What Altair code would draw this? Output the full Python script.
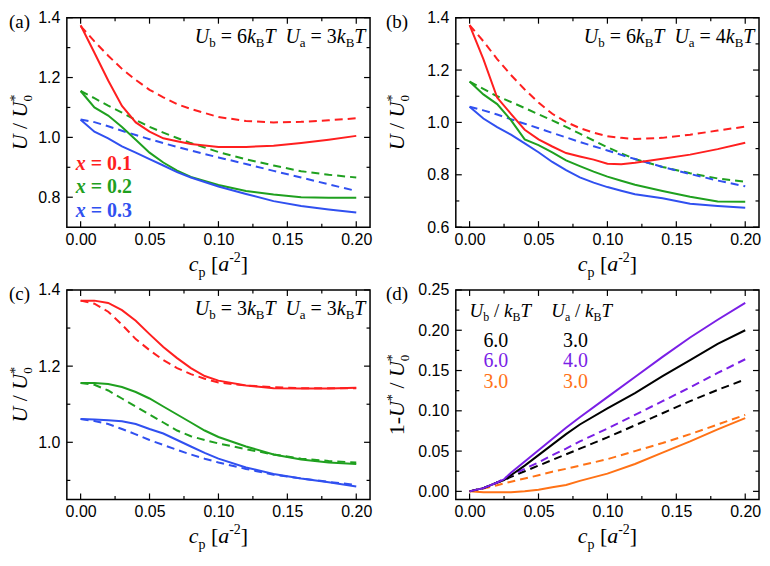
import altair as alt
import pandas as pd

# ---------------- data ----------------
X_MAJOR = [0.0, 0.05, 0.10, 0.15, 0.20]
X_MINOR = [0.025, 0.075, 0.125, 0.175]

# panel (a): Ub = 6 kBT, Ua = 3 kBT
A_X = [0.0, 0.01, 0.02, 0.03, 0.04, 0.05, 0.06, 0.07, 0.08, 0.10, 0.12, 0.14, 0.16, 0.18, 0.20]
A_RED_SOLID = [1.375, 1.283, 1.190, 1.105, 1.050, 1.019, 0.997, 0.987, 0.978, 0.968, 0.968, 0.972, 0.981, 0.992, 1.005]
A_RED_DASH = [1.372, 1.321, 1.273, 1.229, 1.192, 1.159, 1.134, 1.111, 1.095, 1.068, 1.055, 1.050, 1.052, 1.057, 1.064]
A_GRN_SOLID = [1.155, 1.100, 1.073, 1.035, 0.992, 0.949, 0.916, 0.889, 0.868, 0.841, 0.821, 0.809, 0.800, 0.798, 0.798]
A_GRN_DASH = [1.155, 1.131, 1.106, 1.083, 1.058, 1.035, 1.016, 0.998, 0.981, 0.951, 0.927, 0.906, 0.887, 0.875, 0.866]
A_BLU_SOLID = [1.059, 1.019, 0.997, 0.970, 0.949, 0.927, 0.906, 0.884, 0.866, 0.836, 0.811, 0.787, 0.771, 0.759, 0.749]
A_BLU_DASH = [1.060, 1.051, 1.037, 1.022, 1.008, 0.994, 0.981, 0.968, 0.956, 0.933, 0.911, 0.888, 0.866, 0.843, 0.821]

# panel (b): Ub = 6 kBT, Ua = 4 kBT
B_X = [0.0, 0.01, 0.02, 0.03, 0.04, 0.05, 0.06, 0.07, 0.08, 0.09, 0.10, 0.11, 0.12, 0.14, 0.16, 0.18, 0.20]
B_RED_SOLID = [1.372, 1.242, 1.095, 1.033, 0.972, 0.935, 0.908, 0.883, 0.870, 0.858, 0.842, 0.840, 0.846, 0.861, 0.877, 0.898, 0.922]
B_RED_DASH = [1.372, 1.310, 1.242, 1.181, 1.126, 1.076, 1.033, 1.002, 0.978, 0.961, 0.947, 0.941, 0.937, 0.941, 0.953, 0.969, 0.984]
B_GRN_SOLID = [1.156, 1.107, 1.070, 1.009, 0.935, 0.913, 0.886, 0.855, 0.833, 0.812, 0.793, 0.777, 0.762, 0.738, 0.716, 0.698, 0.697]
B_GRN_DASH = [1.156, 1.128, 1.100, 1.078, 1.055, 1.031, 1.008, 0.983, 0.957, 0.931, 0.905, 0.882, 0.860, 0.830, 0.806, 0.786, 0.773]
B_BLU_SOLID = [1.060, 1.015, 0.982, 0.953, 0.920, 0.886, 0.849, 0.818, 0.790, 0.770, 0.753, 0.739, 0.726, 0.710, 0.689, 0.681, 0.674]
B_BLU_DASH = [1.060, 1.046, 1.030, 1.012, 0.995, 0.978, 0.960, 0.943, 0.925, 0.909, 0.893, 0.876, 0.860, 0.830, 0.803, 0.778, 0.756]

# panel (c): Ub = 3 kBT, Ua = 3 kBT
C_X = [0.0, 0.01, 0.02, 0.03, 0.04, 0.05, 0.06, 0.07, 0.08, 0.09, 0.10, 0.12, 0.14, 0.16, 0.18, 0.20]
C_RED_SOLID = [1.372, 1.372, 1.366, 1.347, 1.319, 1.284, 1.250, 1.221, 1.195, 1.174, 1.162, 1.149, 1.142, 1.141, 1.141, 1.143]
C_RED_DASH = [1.372, 1.364, 1.343, 1.309, 1.271, 1.242, 1.216, 1.195, 1.179, 1.167, 1.157, 1.149, 1.145, 1.142, 1.142, 1.142]
C_GRN_SOLID = [1.156, 1.156, 1.153, 1.145, 1.132, 1.115, 1.094, 1.073, 1.052, 1.031, 1.014, 0.989, 0.968, 0.955, 0.947, 0.943]
C_GRN_DASH = [1.156, 1.151, 1.136, 1.115, 1.094, 1.073, 1.052, 1.031, 1.016, 1.006, 0.997, 0.982, 0.968, 0.957, 0.951, 0.947]
C_BLU_SOLID = [1.061, 1.060, 1.058, 1.055, 1.048, 1.035, 1.023, 1.006, 0.989, 0.972, 0.957, 0.934, 0.917, 0.905, 0.895, 0.884]
C_BLU_DASH = [1.061, 1.056, 1.048, 1.035, 1.021, 1.006, 0.993, 0.980, 0.968, 0.957, 0.947, 0.930, 0.915, 0.905, 0.896, 0.888]

# panel (d): 1 - U*/U0*
D_X = [0.0, 0.01, 0.02, 0.025, 0.03, 0.04, 0.05, 0.06, 0.07, 0.08, 0.10, 0.12, 0.14, 0.16, 0.18, 0.20]
D_PUR_SOLID = [0.0, 0.004, 0.011, 0.015, 0.023, 0.037, 0.051, 0.065, 0.079, 0.092, 0.117, 0.142, 0.167, 0.191, 0.213, 0.234]
D_BLK_SOLID = [0.0, 0.004, 0.011, 0.014, 0.020, 0.032, 0.045, 0.058, 0.071, 0.083, 0.103, 0.122, 0.143, 0.163, 0.183, 0.200]
D_PUR_DASH = [0.0, 0.004, 0.011, 0.016, 0.020, 0.028, 0.036, 0.045, 0.053, 0.062, 0.078, 0.095, 0.112, 0.129, 0.147, 0.164]
D_BLK_DASH = [0.0, 0.004, 0.011, 0.014, 0.018, 0.025, 0.032, 0.039, 0.046, 0.053, 0.067, 0.082, 0.097, 0.112, 0.126, 0.139]
D_ORG_SOLID = [0.0, -0.001, -0.001, -0.001, -0.001, 0.000, 0.002, 0.005, 0.008, 0.013, 0.022, 0.034, 0.048, 0.062, 0.077, 0.091]
D_ORG_DASH = [0.0, 0.0035, 0.0076, 0.0098, 0.012, 0.016, 0.020, 0.0244, 0.028, 0.032, 0.040, 0.050, 0.060, 0.071, 0.083, 0.095]

NOTE_UB = ["6", "6", "3"]
NOTE_UA = ["3", "4", "3"]
X_LABELS = ["0.1", "0.2", "0.3"]
LEG_UB = ["6.0", "6.0", "3.0"]
LEG_UA = ["3.0", "4.0", "3.0"]

RED, GREEN, BLUE = "#ff1f1f", "#1fa01f", "#3050f0"
PURPLE, BLACK, ORANGE = "#7a1fe6", "#000000", "#ff7216"

# ---------------- layout ----------------
W, H = 304, 210
SX, SY = W / 308.0, H / 217.0
XDOM = [-0.01, 0.21]
SERIF = "Liberation Serif"
SANS = "Liberation Sans"

ADV = {
    "n": {" ": 250, "/": 278, "=": 564, ".": 250, "-": 333, "[": 333, "]": 333, "(": 333, ")": 333,
          "a": 444, "b": 500, "c": 444, "d": 500, "B": 667, "p": 500, "*": 500},
    "i": {"U": 722, "k": 444, "T": 556, "c": 444, "a": 500, "x": 444, " ": 250},
    "b": {" ": 250, "=": 570, ".": 250},
    "bi": {"x": 500},
}


def adv(text, st, size):
    return sum(ADV[st].get(ch, 500) for ch in text) * size / 1000.0


ONE = alt.Data(values=[{"k": 0}])


def tmark(text, x, y, st, size, color, angle):
    props = dict(align="left", baseline="alphabetic", font=SERIF, fontSize=size, color=color,
                 fontStyle="italic" if "i" in st else "normal",
                 fontWeight="bold" if st.startswith("b") else "normal")
    if angle:
        props["angle"] = angle
    return alt.Chart(ONE).mark_text(**props).encode(
        x=alt.value(x), y=alt.value(y), text=alt.value(text))


def P(t, st="n", sz=20, sh=0, a=True):
    return (t, st, sz, sh, a)


def run(pieces, x0, y0, color="black", rotate=False, center=False):
    total = sum(adv(t, st, sz) for t, st, sz, sh, a in pieces if a)
    pos = -total / 2 if center else 0.0
    out = []
    for t, st, sz, sh, a in pieces:
        body = t.strip(" ")
        if body:
            lead = adv(" " * (len(t) - len(t.lstrip(" "))), st, sz)
            p = pos + lead
            if rotate:
                out.append(tmark(body, x0 + sh, y0 - p, st, sz, color, 270))
            else:
                out.append(tmark(body, x0 + p, y0 + sh, st, sz, color, 0))
        if a:
            pos += adv(t, st, sz)
    return out


Y_TITLE_U = [P("U", "i", 22), P(" / ", "n", 22), P("U", "i", 22), P("0", "n", 13, 5, False), P("*", "n", 14, -7)]
Y_TITLE_D = [P("1-", "n", 22), P("U", "i", 22), P("*", "n", 14, -7), P(" / ", "n", 22), P("U", "i", 22),
             P("0", "n", 13, 5, False), P("*", "n", 14, -7)]
X_TITLE = [P("c", "i", 22), P("p", "n", 14, 6), P(" [", "n", 22), P("a", "i", 22), P("-2", "n", 14, -9), P("]", "n", 22)]


def note(ub, ua):
    return [P("U", "i", 20), P("b", "n", 13, 4), P(" = " + ub, "n", 20), P("k", "i", 20), P("B", "n", 13, 4),
            P("T", "i", 20), P("  ", "n", 20),
            P("U", "i", 20), P("a", "n", 13, 4), P(" = " + ua, "n", 20), P("k", "i", 20), P("B", "n", 13, 4),
            P("T", "i", 20)]


def panel(series, ydom, ymaj, ymin, yfmt, letter, letter_x, ytitle, ytitle_x, extras):
    xs = alt.Scale(domain=XDOM, nice=False, zero=False)
    ys = alt.Scale(domain=ydom, nice=False, zero=False)
    xa = alt.Axis(values=X_MAJOR, format=".2f", title=None, grid=False, ticks=False, tickSize=0,
                  domain=False, labelFont=SANS, labelFontSize=16, labelColor="black",
                  labelPadding=4, labelFlush=False)
    ya = alt.Axis(values=ymaj, format=yfmt, title=None, grid=False, ticks=False, tickSize=0,
                  domain=False, labelFont=SANS, labelFontSize=16, labelColor="black", labelPadding=7)

    def X():
        return alt.X("x:Q", scale=xs, axis=xa)

    def Y():
        return alt.Y("y:Q", scale=ys, axis=ya)

    layers = []
    for vals, ln in ((X_MAJOR, 6), (X_MINOR, 3.5)):
        df = pd.DataFrame({"x": vals})
        layers.append(alt.Chart(df).mark_rule(color="black", strokeWidth=1.2).encode(
            x=X(), y=alt.value(H), y2=alt.value(H - ln)))
        layers.append(alt.Chart(df).mark_rule(color="black", strokeWidth=1.2).encode(
            x=X(), y=alt.value(0), y2=alt.value(ln)))
    for vals, ln in ((ymaj, 6), (ymin, 3.5)):
        df = pd.DataFrame({"y": vals})
        layers.append(alt.Chart(df).mark_rule(color="black", strokeWidth=1.2).encode(
            y=Y(), x=alt.value(0), x2=alt.value(ln)))
        layers.append(alt.Chart(df).mark_rule(color="black", strokeWidth=1.2).encode(
            y=Y(), x=alt.value(W), x2=alt.value(W - ln)))

    rows_s, rows_d = [], []
    for name, xv, yv, color, dashed in series:
        for a, b in zip(xv, yv):
            (rows_d if dashed else rows_s).append({"x": a, "y": b, "s": name, "c": color})
    layers.append(alt.Chart(pd.DataFrame(rows_d)).mark_line(strokeWidth=2, strokeDash=[8, 5]).encode(
        x=X(), y=Y(), detail="s:N", color=alt.Color("c:N", scale=None)))
    layers.append(alt.Chart(pd.DataFrame(rows_s)).mark_line(strokeWidth=2).encode(
        x=X(), y=Y(), detail="s:N", color=alt.Color("c:N", scale=None)))

    layers += run([P(letter, "n", 19)], letter_x, 10)
    layers += run(ytitle, ytitle_x, H / 2, rotate=True, center=True)
    layers += run(X_TITLE, W / 2, H + 44, center=True)
    layers += extras
    return alt.layer(*layers).properties(width=W, height=H)


# panel (a)
ex_a = run(note(NOTE_UB[0], NOTE_UA[0]), 130 * SX, 26 * SY)
for lab, col, yb in zip(X_LABELS, [RED, GREEN, BLUE], [158, 182, 207]):
    ex_a += run([P("x", "bi", 20), P(" = " + lab, "b", 20)], 9 * SX, yb * SY, color=col)
pa = panel([
    ("r_s", A_X, A_RED_SOLID, RED, False), ("r_d", A_X, A_RED_DASH, RED, True),
    ("g_s", A_X, A_GRN_SOLID, GREEN, False), ("g_d", A_X, A_GRN_DASH, GREEN, True),
    ("b_s", A_X, A_BLU_SOLID, BLUE, False), ("b_d", A_X, A_BLU_DASH, BLUE, True),
], [0.7, 1.4], [0.8, 1.0, 1.2, 1.4], [0.9, 1.1, 1.3], ".1f", "(a)", -58, Y_TITLE_U, -40, ex_a)

# panel (b)
ex_b = run(note(NOTE_UB[1], NOTE_UA[1]), 130 * SX, 26 * SY)
pb = panel([
    ("r_s", B_X, B_RED_SOLID, RED, False), ("r_d", B_X, B_RED_DASH, RED, True),
    ("g_s", B_X, B_GRN_SOLID, GREEN, False), ("g_d", B_X, B_GRN_DASH, GREEN, True),
    ("b_s", B_X, B_BLU_SOLID, BLUE, False), ("b_d", B_X, B_BLU_DASH, BLUE, True),
], [0.6, 1.4], [0.6, 0.8, 1.0, 1.2, 1.4], [0.7, 0.9, 1.1, 1.3], ".1f", "(b)", -70, Y_TITLE_U, -52, ex_b)

# panel (c)
ex_c = run(note(NOTE_UB[2], NOTE_UA[2]), 130 * SX, 26 * SY)
pc = panel([
    ("r_s", C_X, C_RED_SOLID, RED, False), ("r_d", C_X, C_RED_DASH, RED, True),
    ("g_s", C_X, C_GRN_SOLID, GREEN, False), ("g_d", C_X, C_GRN_DASH, GREEN, True),
    ("b_s", C_X, C_BLU_SOLID, BLUE, False), ("b_d", C_X, C_BLU_DASH, BLUE, True),
], [0.85, 1.4], [1.0, 1.2, 1.4], [0.9, 1.1, 1.3], ".1f", "(c)", -58, Y_TITLE_U, -40, ex_c)

# panel (d)
hdr_b = [P("U", "i", 19), P("b", "n", 12, 4), P(" / ", "n", 19), P("k", "i", 19), P("B", "n", 12, 4), P("T", "i", 19)]
hdr_a = [P("U", "i", 19), P("a", "n", 12, 4), P(" / ", "n", 19), P("k", "i", 19), P("B", "n", 12, 4), P("T", "i", 19)]
ex_d = run(hdr_b, 14 * SX, 28 * SY) + run(hdr_a, 97 * SX, 28 * SY)
for ub, ua, col, yb in zip(LEG_UB, LEG_UA, [BLACK, PURPLE, ORANGE], [59, 80, 101.5]):
    ex_d += run([P(ub, "n", 20)], 28 * SX, yb * SY, color=col)
    ex_d += run([P(ua, "n", 20)], 109 * SX, yb * SY, color=col)
pdd = panel([
    ("o_s", D_X, D_ORG_SOLID, ORANGE, False), ("o_d", D_X, D_ORG_DASH, ORANGE, True),
    ("k_s", D_X, D_BLK_SOLID, BLACK, False), ("k_d", D_X, D_BLK_DASH, BLACK, True),
    ("p_s", D_X, D_PUR_SOLID, PURPLE, False), ("p_d", D_X, D_PUR_DASH, PURPLE, True),
], [-0.01, 0.25], [0.0, 0.05, 0.10, 0.15, 0.20, 0.25],
    [0.025, 0.075, 0.125, 0.175, 0.225], ".2f", "(d)", -70, Y_TITLE_D, -52, ex_d)

chart = alt.concat(pa, pb, pc, pdd, columns=2, spacing={"row": 63, "column": 86}, bounds="flush").properties(
    padding=0, background="white"
).configure_view(stroke="black", strokeWidth=1.5)

chart.save("out.html", embed_options={"renderer": "svg", "actions": False})
